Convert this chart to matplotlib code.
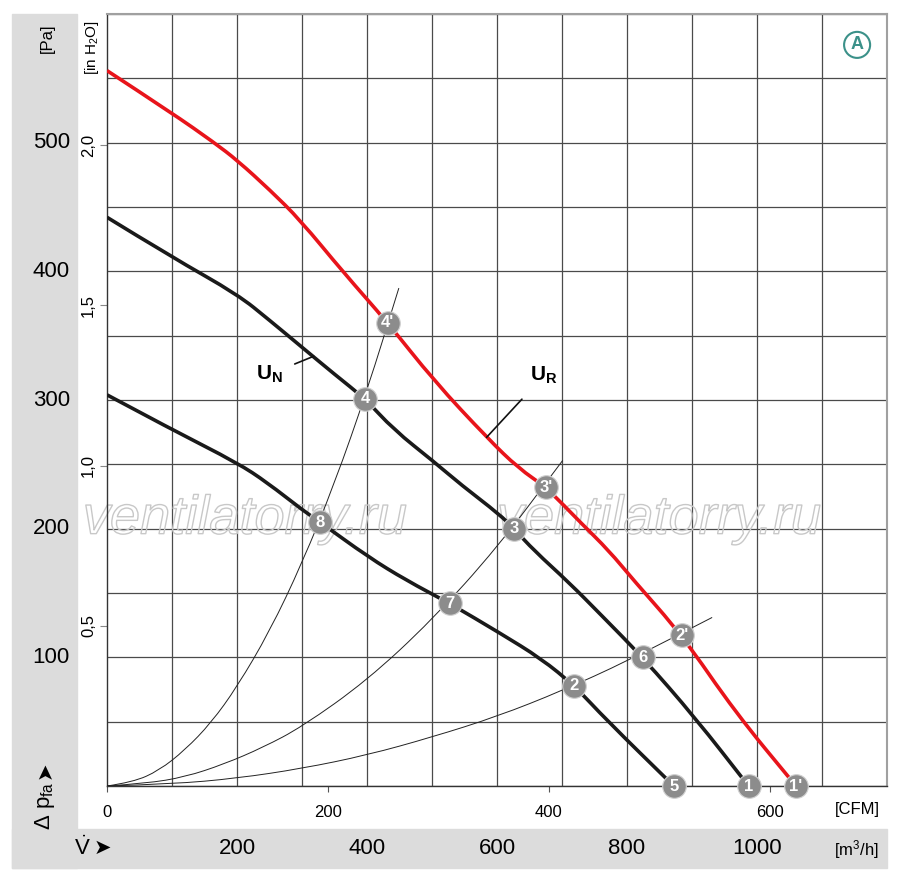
import matplotlib
matplotlib.use("Agg")
import matplotlib.pyplot as plt
import matplotlib.transforms as mtransforms
import matplotlib.patheffects as pe
from matplotlib.patches import Rectangle, PathPatch
from matplotlib.path import Path

plt.rcParams['font.family'] = ['Liberation Sans', 'DejaVu Sans']
plt.rcParams['mathtext.fontset'] = 'custom'
plt.rcParams['mathtext.rm'] = 'Liberation Sans'
plt.rcParams['mathtext.it'] = 'Liberation Sans:italic'
plt.rcParams['mathtext.bf'] = 'Liberation Sans:bold'

# fan curves, flow in m3/h, pressure in Pa
ur_q = [0, 100, 165, 201, 251, 297, 364, 432, 503, 586, 633, 676, 730, 772, 810, 885, 967, 1060]
ur_p = [556, 523, 500, 486, 463, 440, 399, 360, 315, 270, 247, 232, 204, 183, 160, 117, 57, 0]

un_q = [0, 100, 201, 250, 300, 350, 397, 441, 503, 545, 604, 626, 657, 711, 760, 824, 905, 987]
un_p = [442, 411, 382, 362, 341, 320, 301, 277, 252, 234, 211, 200, 183, 158, 133, 100, 53, 0]

low_q = [0, 100, 201, 246, 302, 328, 402, 460, 527, 604, 668, 719, 769, 872]
low_p = [304, 277, 251, 236, 214, 205, 178, 160, 142, 119, 99, 78, 51, 0]

# system resistance curves
sys1_q = [0, 40, 80, 120, 160, 200, 250, 300, 350, 400, 449]
sys1_p = [0, 3, 12, 28, 49, 77, 120, 173, 235, 307, 387]
sys2_q = [0, 60, 120, 180, 240, 300, 400, 500, 600, 701]
sys2_p = [0, 2, 7, 17, 30, 46, 82, 129, 185, 253]
sys3_q = [0, 100, 200, 300, 400, 500, 600, 700, 800, 931]
sys3_p = [0, 1.5, 6, 13.6, 24, 38, 54, 74, 97, 131]

# operating points
pt_labels = ["1'", "2'", "3'", "4'", "1", "2", "3", "4", "5", "6", "7", "8"]
pt_q = [1060, 885, 676, 432, 987, 719, 626, 397, 872, 824, 527, 328]
pt_p = [0, 117, 232, 360, 0, 78, 200, 301, 0, 100, 142, 205]

pa_ticks = [100, 200, 300, 400, 500]
inh2o_ticks = [0.5, 1.0, 1.5, 2.0]
inh2o_labels = ['0,5', '1,0', '1,5', '2,0']
cfm_ticks = [0, 200, 400, 600]
m3h_labels = [200, 400, 600, 800, 1000]

PA_PER_INH2O = 249.09
M3H_PER_CFM = 1.699


def smooth_line(ax, xs, ys, **kw):
    # quadratic bezier through midpoints, so the polyline reads as a smooth curve
    pts = list(zip(xs, ys))
    verts = [pts[0]]
    codes = [Path.MOVETO]
    for i in range(1, len(pts) - 1):
        mid = ((pts[i][0] + pts[i + 1][0]) / 2, (pts[i][1] + pts[i + 1][1]) / 2)
        verts += [pts[i], mid]
        codes += [Path.CURVE3, Path.CURVE3]
    verts.append(pts[-1])
    codes.append(Path.LINETO)
    patch = PathPatch(Path(verts, codes), facecolor='none', **kw)
    ax.add_patch(patch)


fig = plt.figure(figsize=(9, 8.8), dpi=100)
band = '#dcdcdc'
fig.add_artist(Rectangle((12 / 900, 12 / 880), 65 / 900, 854 / 880,
                         transform=fig.transFigure, color=band, zorder=0))
fig.add_artist(Rectangle((12 / 900, 12 / 880), 875 / 900, 39 / 880,
                         transform=fig.transFigure, color=band, zorder=0))

ax = fig.add_axes([107 / 900, 94 / 880, 780 / 900, 772 / 880])
ax.set_xlim(0, 1200)
ax.set_ylim(0, 600)

# grid
ax.xaxis.set_minor_locator(matplotlib.ticker.MultipleLocator(100))
ax.yaxis.set_minor_locator(matplotlib.ticker.MultipleLocator(50))
ax.grid(which='minor', color='#4a4a4a', linewidth=0.9)
ax.grid(which='major', visible=False)
ax.tick_params(which='minor', length=0)
ax.set_axisbelow(True)

for s in ['top', 'right']:
    ax.spines[s].set_color('#a0a0a0')
    ax.spines[s].set_linewidth(1.5)
    ax.spines[s].set_zorder(2.5)
for s in ['left', 'bottom']:
    ax.spines[s].set_color('#333333')
    ax.spines[s].set_linewidth(1.0)

# CFM ticks on the x axis
ax.set_xticks([c * M3H_PER_CFM for c in cfm_ticks], labels=[str(c) for c in cfm_ticks])
ax.tick_params(axis='x', which='major', length=4, color='#555555', labelsize=12, pad=10)

# in H2O ticks on the y axis
ax.set_yticks([v * PA_PER_INH2O for v in inh2o_ticks], labels=inh2o_labels)
ax.tick_params(axis='y', which='major', length=5, color='#888888', labelsize=12,
               labelrotation=90, pad=3)
for lab in ax.get_yticklabels():
    lab.set_va('center')

# watermark
for xq in [212, 849]:
    ax.text(xq, 207, 'ventilatorry.ru', fontsize=39, style='italic',
            ha='center', va='center', color=(1, 1, 1, 0), zorder=2,
            path_effects=[pe.withStroke(linewidth=1.0, foreground='#c8c8c8')])

# system curves
for q, p in [(sys1_q, sys1_p), (sys2_q, sys2_p), (sys3_q, sys3_p)]:
    smooth_line(ax, q, p, edgecolor='#222222', linewidth=0.7, zorder=3)

smooth_line(ax, low_q, low_p, edgecolor='#1a1a1a', linewidth=2.6, zorder=4)
smooth_line(ax, un_q, un_p, edgecolor='#1a1a1a', linewidth=2.6, zorder=4)
smooth_line(ax, ur_q, ur_p, edgecolor='#e8141b', linewidth=2.6, zorder=4)

ax.plot(pt_q, pt_p, 'o', markersize=17, color='#8c8c8c', markeredgecolor='#d0d0d0',
        markeredgewidth=0.8, zorder=5, clip_on=False)
for lab, q, p in zip(pt_labels, pt_q, pt_p):
    ax.text(q, p, lab, color='white', fontsize=12, fontweight='bold',
            ha='center', va='center', zorder=6)

# curve labels
ax.annotate(r'$\mathbf{U_N}$', xy=(318, 334), xytext=(250, 320), fontsize=15,
            ha='center', va='center', zorder=6,
            arrowprops=dict(arrowstyle='-', color='#111111', linewidth=1.2,
                            shrinkA=7, shrinkB=0))
ax.annotate(r'$\mathbf{U_R}$', xy=(584, 271), xytext=(672, 319), fontsize=15,
            ha='center', va='center', zorder=6,
            arrowprops=dict(arrowstyle='-', color='#111111', linewidth=1.2,
                            shrinkA=10, shrinkB=0))

ax.text(1154, 576, 'A', fontsize=13, fontweight='bold', color='#3b9189',
        ha='center', va='center',
        bbox=dict(boxstyle='circle,pad=0.25', facecolor='white', edgecolor='#3b9189',
                  linewidth=1.5))

# band labels
tr_y = mtransforms.blended_transform_factory(fig.transFigure, ax.transData)
for v in pa_ticks:
    ax.text(70 / 900, v, str(v), transform=tr_y, fontsize=16, ha='right', va='center')
fig.text(47 / 900, 1 - 38 / 880, '[Pa]', fontsize=12, rotation=90, ha='center', va='center')
fig.text(92 / 900, 1 - 48 / 880, r'[in H$_2$O]', fontsize=11, rotation=90,
         ha='center', va='center')
fig.text(45 / 900, 1 - 806 / 880, '\u0394 p$_{\\mathrm{fa}}$', fontsize=16,
         rotation=90, ha='center', va='center')
fig.text(45 / 900, 1 - 770 / 880, '\u27a4', fontsize=15, rotation=90,
         ha='center', va='center', family='DejaVu Sans')

tr_x = mtransforms.blended_transform_factory(ax.transData, fig.transFigure)
for v in m3h_labels:
    ax.text(v, 1 - 848 / 880, str(v), transform=tr_x, fontsize=16, ha='center', va='center')
fig.text(82 / 900, 1 - 848 / 880, '$\\dot{\\mathrm{V}}$', fontsize=16,
         ha='center', va='center')
fig.text(102 / 900, 1 - 848 / 880, '\u27a4', fontsize=15,
         ha='center', va='center', family='DejaVu Sans')
fig.text(856 / 900, 1 - 850 / 880, '[m$^3$/h]', fontsize=12, ha='center', va='center')
fig.text(857 / 900, 1 - 809 / 880, '[CFM]', fontsize=12, ha='center', va='center')

fig.savefig('out.png', dpi=100)
